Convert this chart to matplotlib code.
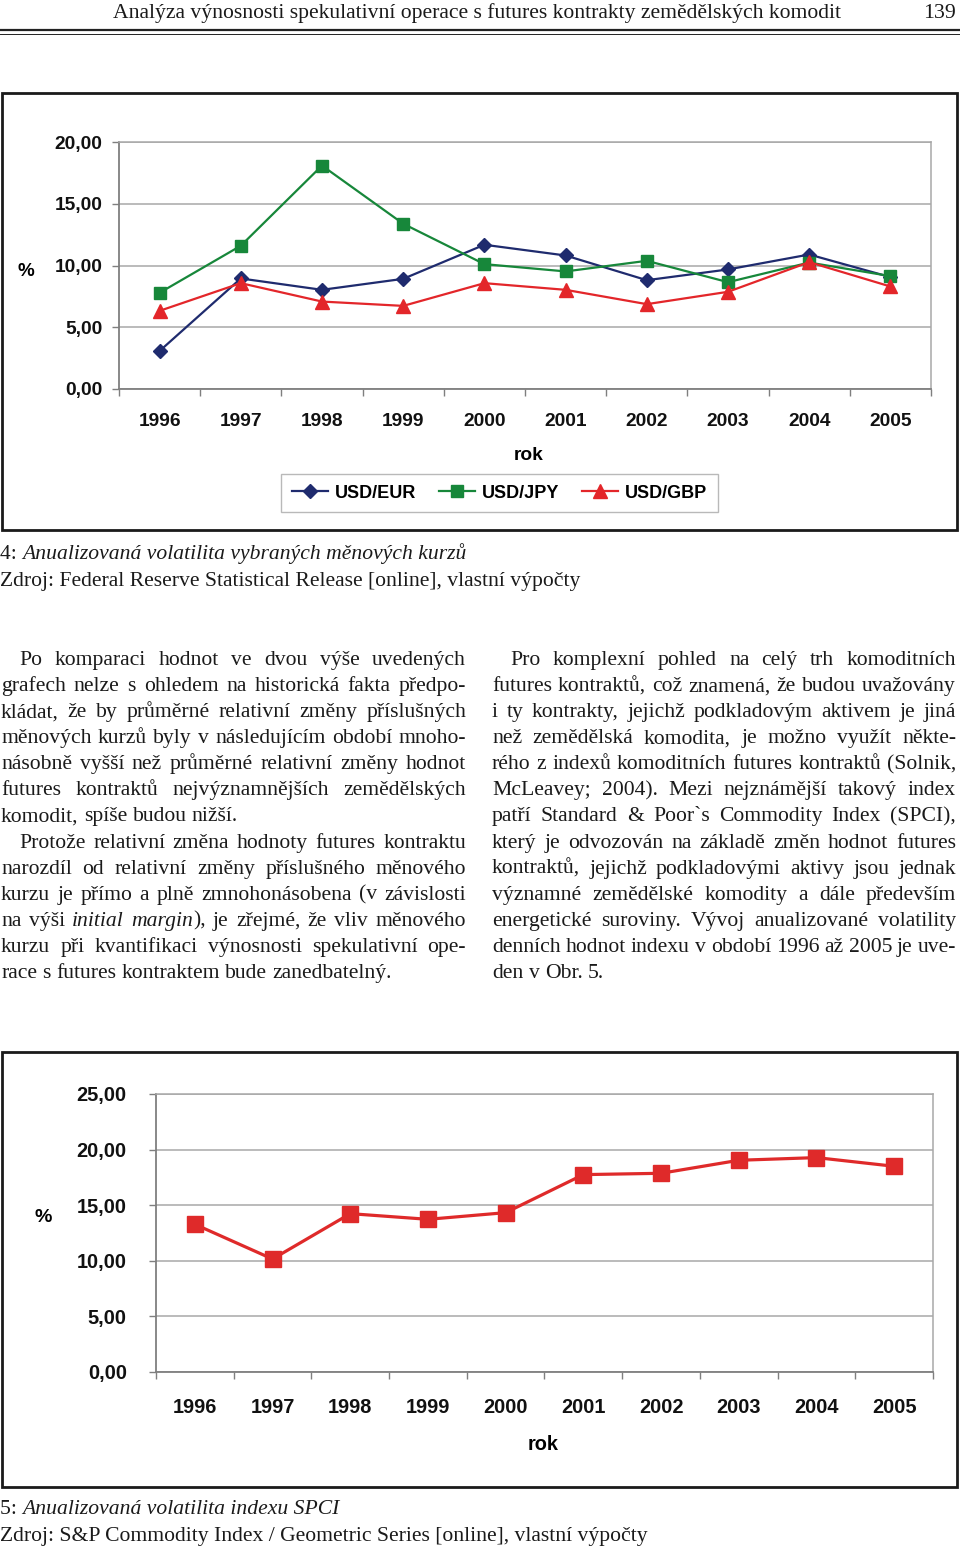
import matplotlib
matplotlib.use("Agg")
import numpy as np
import matplotlib.pyplot as plt
from matplotlib.ticker import FuncFormatter
from matplotlib.patches import Rectangle
from matplotlib.lines import Line2D

# ---------------- data ----------------
years = ["1996", "1997", "1998", "1999", "2000", "2001", "2002", "2003", "2004", "2005"]
series_names = ["USD/EUR", "USD/JPY", "USD/GBP"]
usd_eur = [3.08, 8.95, 8.03, 8.92, 11.68, 10.81, 8.81, 9.68, 10.89, 9.06]
usd_jpy = [7.79, 11.60, 18.09, 13.38, 10.11, 9.52, 10.38, 8.65, 10.24, 9.14]
usd_gbp = [6.33, 8.57, 7.08, 6.73, 8.57, 8.03, 6.87, 7.87, 10.27, 8.30]
spci = [13.28, 10.16, 14.24, 13.73, 14.33, 17.75, 17.87, 19.04, 19.28, 18.50]
yticks_top = [0, 5, 10, 15, 20]
yticks_bottom = [0, 5, 10, 15, 20, 25]

header_title = "Analýza výnosnosti spekulativní operace s futures kontrakty zemědělských komodit"
page_no = "139"
cap1_num = "4: "
cap1_txt = "Anualizovaná volatilita vybraných měnových kurzů"
cap1_src = "Zdroj: Federal Reserve Statistical Release [online], vlastní výpočty"
cap2_num = "5: "
cap2_txt = "Anualizovaná volatilita indexu SPCI"
cap2_src = "Zdroj: S&P Commodity Index / Geometric Series [online], vlastní výpočty"

left_lines = [
    "Po komparaci hodnot ve dvou výše uvedených",
    "grafech nelze s ohledem na historická fakta předpo-",
    "kládat, že by průměrné relativní změny příslušných",
    "měnových kurzů byly v následujícím období mnoho-",
    "násobně vyšší než průměrné relativní změny hodnot",
    "futures kontraktů nejvýznamnějších zemědělských",
    "komodit, spíše budou nižší.",
    "Protože relativní změna hodnoty futures kontraktu",
    "narozdíl od relativní změny příslušného měnového",
    "kurzu je přímo a plně zmnohonásobena (v závislosti",
    "na výši *initial margin*), je zřejmé, že vliv měnového",
    "kurzu při kvantifikaci výnosnosti spekulativní ope-",
    "race s futures kontraktem bude zanedbatelný.",
]
left_indent = {0, 7}
left_last = {6, 12}
right_lines = [
    "Pro komplexní pohled na celý trh komoditních",
    "futures kontraktů, což znamená, že budou uvažovány",
    "i ty kontrakty, jejichž podkladovým aktivem je jiná",
    "než zemědělská komodita, je možno využít někte-",
    "rého z indexů komoditních futures kontraktů (Solnik,",
    "McLeavey; 2004). Mezi nejznámější takový index",
    "patří Standard & Poor`s Commodity Index (SPCI),",
    "který je odvozován na základě změn hodnot futures",
    "kontraktů, jejichž podkladovými aktivy jsou jednak",
    "významné zemědělské komodity a dále především",
    "energetické suroviny. Vývoj anualizované volatility",
    "denních hodnot indexu v období 1996 až 2005 je uve-",
    "den v Obr. 5.",
]
right_indent = {0}
right_last = {12}

# ---------------- setup ----------------
W, H, DPI = 960, 1549, 100
fig = plt.figure(figsize=(W / DPI, H / DPI), dpi=DPI)
fig.patch.set_facecolor("white")
renderer = fig.canvas.get_renderer()

SERIF = ["Liberation Serif", "DejaVu Serif"]
SANS = ["Liberation Sans", "DejaVu Sans"]
BODY_FS = 15.6

def fx(x):
    return x / W

def fy(y):
    return 1 - y / H

def add_ax(x0, y0, x1, y1):
    return fig.add_axes([fx(x0), fy(y1), (x1 - x0) / W, (y1 - y0) / H])

_cache = {}
def measure(s, italic=False, fs=BODY_FS):
    key = (s, italic, fs)
    if key not in _cache:
        t = fig.text(0, 0, s, fontsize=fs, family=SERIF,
                     fontstyle="italic" if italic else "normal")
        _cache[key] = t.get_window_extent(renderer).width
        t.remove()
    return _cache[key]

def put(x, yb, s, italic=False, fs=BODY_FS, ha="left"):
    fig.text(fx(x), fy(yb), s, fontsize=fs, family=SERIF, ha=ha, va="baseline",
             fontstyle="italic" if italic else "normal", color="#1a1a1a")

def parse_words(line):
    words = []
    state = False
    for w in line.split(" "):
        runs = []
        parts = w.split("*")
        for i, p in enumerate(parts):
            if i > 0:
                state = not state
            if p:
                runs.append((p, state))
        words.append(runs)
    return words

def space_w():
    return measure("a a") - measure("aa")

def draw_column(lines, indents, lasts, x0, x1, yb0, step, indent=18):
    for i, line in enumerate(lines):
        yb = yb0 + i * step
        xs = x0 + (indent if i in indents else 0)
        words = parse_words(line)
        widths = [sum(measure(r, it) for r, it in runs) for runs in words]
        if i in lasts or len(words) < 2:
            gap = space_w()
        else:
            gap = (x1 - xs - sum(widths)) / (len(words) - 1)
        x = xs
        for runs, wd in zip(words, widths):
            xx = x
            for r, it in runs:
                put(xx, yb, r, it)
                xx += measure(r, it)
            x += wd + gap

def draw_caption(x, yb, num, txt):
    put(x, yb, num)
    put(x + measure(num.strip()) + space_w(), yb, txt, italic=True)

# ---------------- header ----------------
put(113, 18, header_title)
put(956, 18, page_no, ha="right")
fig.add_artist(Line2D([0, 1], [fy(30), fy(30)], color="#222222", lw=1.6, transform=fig.transFigure))
fig.add_artist(Line2D([0, 1], [fy(33.5), fy(33.5)], color="#222222", lw=0.7, transform=fig.transFigure))

# ---------------- chart frames ----------------
for (x0, y0, x1, y1) in [(2, 93, 957, 530), (2, 1052, 957, 1487)]:
    fig.add_artist(Rectangle((fx(x0), fy(y1)), (x1 - x0) / W, (y1 - y0) / H,
                             fill=False, ec="#1a1a1a", lw=2.0, transform=fig.transFigure))

fmt = FuncFormatter(lambda v, p: f"{v:.2f}".replace(".", ","))

def style(ax, yticks, fs, ypad, xpad):
    ax.set_xlim(0.5, 10.5)
    ax.set_ylim(yticks[0], yticks[-1])
    ax.set_yticks(yticks)
    ax.yaxis.set_major_formatter(fmt)
    ax.set_xticks(range(1, 11))
    ax.set_xticklabels(years)
    ax.set_xticks(np.arange(0.5, 11, 1), minor=True)
    ax.tick_params(axis="x", which="major", length=0, pad=xpad)
    ax.tick_params(axis="x", which="minor", length=5, width=1, color="#7f7f7f")
    ax.tick_params(axis="y", length=5, width=1, color="#7f7f7f", pad=ypad)
    for lab in ax.get_xticklabels() + ax.get_yticklabels():
        lab.set_fontfamily(SANS)
        lab.set_fontweight("bold")
        lab.set_fontsize(fs)
        lab.set_color("#111111")
    ax.grid(axis="y", color="#a8a8a8", lw=1.1)
    ax.set_axisbelow(True)
    for s in ["left", "bottom"]:
        ax.spines[s].set_color("#7f7f7f")
        ax.spines[s].set_linewidth(1.3)
    for s in ["top", "right"]:
        ax.spines[s].set_color("#a8a8a8")
        ax.spines[s].set_linewidth(1.1)

x = np.arange(1, 11)

# ---------------- chart 1 ----------------
ax1 = add_ax(119, 142, 931, 389)
style(ax1, yticks_top, 13.8, 7, 17)
h1, = ax1.plot(x, usd_eur, color="#1f2b6e", lw=1.6, marker="D", ms=7.5, label=series_names[0])
h2, = ax1.plot(x, usd_jpy, color="#17873a", lw=1.6, marker="s", ms=8.5, label=series_names[1])
h3, = ax1.plot(x, usd_gbp, color="#e3262a", lw=1.6, marker="^", ms=9.5, label=series_names[2])
for h in (h1, h2, h3):
    h.set_clip_on(False)

fig.text(fx(26), fy(272), "%", fontsize=13.5, family=SANS, fontweight="bold", ha="center", va="center")
fig.text(fx(529), fy(456), "rok", fontsize=13.8, family=SANS, fontweight="bold", ha="center", va="center")

leg = fig.legend(handles=[h1, h2, h3], labels=series_names, loc="center",
                 bbox_to_anchor=(fx(272), fy(515), (727 - 272) / W, (515 - 471) / H),
                 mode="expand", ncol=3, frameon=True, fancybox=False, edgecolor="#a8a8a8",
                 borderpad=0.6, handlelength=2.0, handletextpad=0.4, columnspacing=1.0,
                 prop={"family": SANS, "weight": "bold", "size": 13})
leg.get_frame().set_linewidth(1.0)

draw_caption(0, 559, cap1_num, cap1_txt)
put(0, 586, cap1_src)

# ---------------- text columns ----------------
draw_column(left_lines, left_indent, left_last, 1, 466, 665, 26.08)
draw_column(right_lines, right_indent, right_last, 492, 956, 665, 26.08)

# ---------------- chart 2 ----------------
ax2 = add_ax(156, 1094, 933, 1372)
style(ax2, yticks_bottom, 14.4, 16, 19)
p, = ax2.plot(x, spci, color="#df2a2a", lw=2.3, marker="s", ms=11)
p.set_clip_on(False)
fig.text(fx(43), fy(1217), "%", fontsize=14, family=SANS, fontweight="bold", ha="center", va="center")
fig.text(fx(543), fy(1445), "rok", fontsize=14.4, family=SANS, fontweight="bold", ha="center", va="center")

draw_caption(0, 1514, cap2_num, cap2_txt)
put(0, 1541, cap2_src)

fig.savefig("out.png", dpi=DPI)
